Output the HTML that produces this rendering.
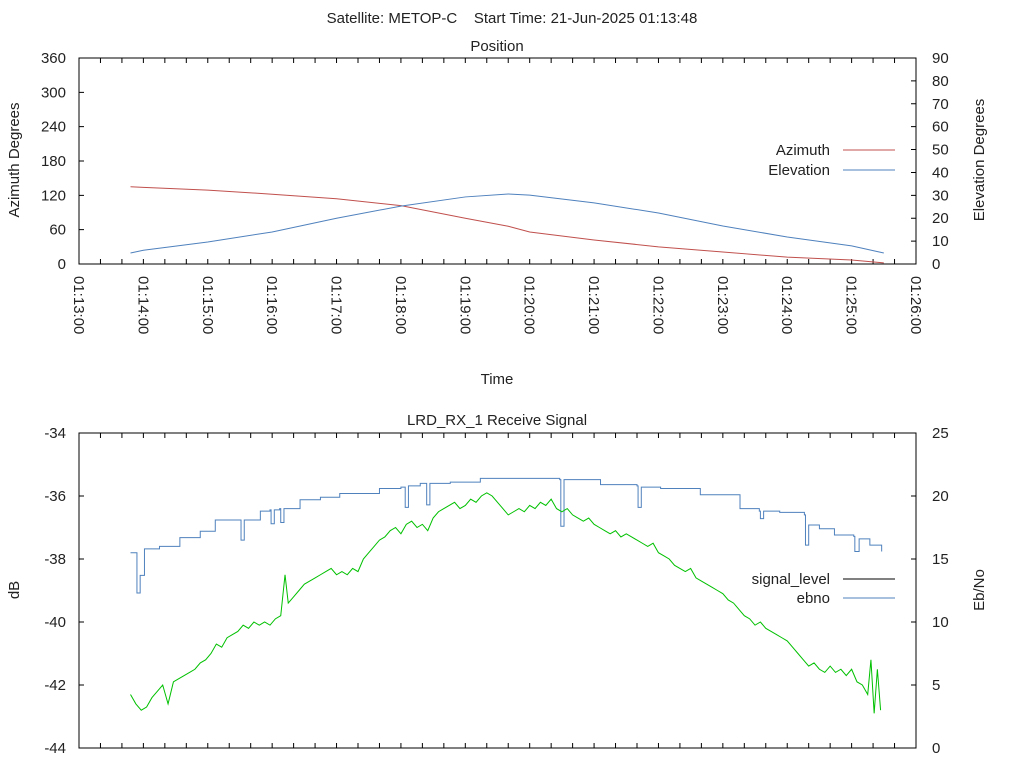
<!DOCTYPE html>
<html><head><meta charset="utf-8"><style>
body{margin:0;background:#fff;}
svg{display:block;font-family:"Liberation Sans",sans-serif;}
text{fill:#222;font-size:15px;}
</style></head><body>
<svg id="c" width="1024" height="768" viewBox="0 0 1024 768">
<text x="512" y="23" text-anchor="middle" xml:space="preserve">Satellite: METOP-C    Start Time: 21-Jun-2025 01:13:48</text>
<text x="497" y="51" text-anchor="middle">Position</text>
<text x="497" y="425" text-anchor="middle">LRD_RX_1 Receive Signal</text>
<text x="497" y="384" text-anchor="middle">Time</text>
<text transform="translate(19,160) rotate(-90)" text-anchor="middle">Azimuth Degrees</text>
<text transform="translate(984,160) rotate(-90)" text-anchor="middle">Elevation Degrees</text>
<text transform="translate(19,590) rotate(-90)" text-anchor="middle">dB</text>
<text transform="translate(984,590) rotate(-90)" text-anchor="middle">Eb/No</text>
<g id="g"></g>
</svg>
<script>
const posTimes=[48,60,120,180,240,300,360,400,420,480,540,600,660,720,750];
const azimuth=[135,134,129,122,114,102,80,66,56,42,30,21,12,7,2];
const elevation=[4.8,6,9.6,14,20,25.3,29.3,30.6,30.1,26.7,22.3,16.6,11.8,7.9,4.8];
const azTicks=[0,60,120,180,240,300,360];
const elTicks=[0,10,20,30,40,50,60,70,80,90];
const dbTicks=[-44,-42,-40,-38,-36,-34];
const ebTicks=[0,5,10,15,20,25];
const timeLabels=["01:13:00","01:14:00","01:15:00","01:16:00","01:17:00","01:18:00","01:19:00","01:20:00","01:21:00","01:22:00","01:23:00","01:24:00","01:25:00","01:26:00"];
const sigTimes=[48,53,58,63,68,73,78,83,88,93,98,103,108,113,118,123,128,133,138,143,148,153,158,163,168,173,178,183,188,192,195,200,205,210,215,220,225,230,235,240,245,250,255,260,265,270,275,280,285,290,295,300,305,310,315,320,325,330,335,340,345,350,355,360,365,370,375,380,385,390,395,400,405,410,415,420,425,430,435,440,445,450,455,460,465,470,475,480,485,490,495,500,505,510,515,520,525,530,535,540,545,550,555,560,565,570,575,580,585,590,595,600,605,610,615,620,625,630,635,640,645,650,655,660,665,670,675,680,685,690,695,700,705,710,715,720,725,730,735,738,741,744,747];
const signalLevel=[-42.3,-42.6,-42.8,-42.7,-42.4,-42.2,-42.0,-42.6,-41.9,-41.8,-41.7,-41.6,-41.5,-41.3,-41.2,-41.0,-40.7,-40.8,-40.5,-40.4,-40.3,-40.1,-40.2,-40.0,-40.1,-40.0,-40.1,-39.9,-39.8,-38.5,-39.4,-39.2,-39.0,-38.8,-38.7,-38.6,-38.5,-38.4,-38.3,-38.5,-38.4,-38.5,-38.3,-38.4,-38.0,-37.8,-37.6,-37.4,-37.3,-37.1,-37.0,-37.2,-36.9,-36.8,-37.0,-36.9,-37.1,-36.7,-36.5,-36.4,-36.3,-36.2,-36.4,-36.3,-36.1,-36.2,-36.0,-35.9,-36.0,-36.2,-36.4,-36.6,-36.5,-36.4,-36.5,-36.3,-36.4,-36.2,-36.3,-36.1,-36.4,-36.5,-36.4,-36.6,-36.7,-36.8,-36.7,-36.9,-37.0,-37.1,-37.2,-37.1,-37.3,-37.2,-37.3,-37.4,-37.5,-37.6,-37.5,-37.8,-37.9,-38.0,-38.2,-38.3,-38.4,-38.3,-38.6,-38.7,-38.8,-38.9,-39.0,-39.1,-39.3,-39.4,-39.6,-39.8,-39.9,-40.1,-40.0,-40.2,-40.3,-40.4,-40.5,-40.6,-40.8,-41.0,-41.2,-41.4,-41.3,-41.5,-41.6,-41.4,-41.6,-41.5,-41.7,-41.5,-41.9,-42.0,-42.3,-41.2,-42.9,-41.5,-42.8];
const ebTimes=[48,54,57,61,75,94,113,127,150,151,154,169,178,179,182,187,188,191,206,225,243,280,300,304,307,318,324,327,346,374,420,448,449,452,486,520,521,524,542,579,616,634,635,638,653,676,677,680,690,704,722,723,727,737,748];
const ebno=[15.5,12.3,13.7,15.8,16.0,16.7,17.2,18.1,18.1,16.5,18.1,18.8,18.9,17.8,18.9,19.0,17.9,19.0,19.7,19.9,20.2,20.6,20.7,19.1,20.8,21.0,19.3,21.0,21.1,21.4,21.4,21.3,17.6,21.3,20.9,20.8,19.1,20.7,20.6,20.1,19.0,18.8,18.2,18.8,18.7,18.5,16.1,17.7,17.4,16.9,16.8,15.6,16.6,16.1,15.6];

const NS='http://www.w3.org/2000/svg';
const g=document.getElementById('g');
const X0=79,X1=916,T1=780;
const xs=t=>X0+(X1-X0)*t/T1;
function mk(tag,at,txt){const e=document.createElementNS(NS,tag);for(const k in at)e.setAttribute(k,at[k]);if(txt!=null)e.textContent=txt;g.appendChild(e);return e;}
function panel(top,bot,lmin,lmax,lticks,rmin,rmax,rticks,pfx,labels){
  const yl=v=>bot-(bot-top)*(v-lmin)/(lmax-lmin);
  const yr=v=>bot-(bot-top)*(v-rmin)/(rmax-rmin);
  const box=mk('rect',{x:X0,y:top,width:X1-X0,height:bot-top,fill:'none',stroke:'#000','stroke-width':1});
  
  
  let d='';
  for(let s=0;s<=T1;s+=20){const x=xs(s);d+=`M${x},${bot}v-5M${x},${top}v5`;}
  lticks.forEach(v=>{d+=`M${X0},${yl(v)}h5`;
    const t=mk('text',{x:66,y:yl(v)+5,'text-anchor':'end'},String(v));
    
    });
  rticks.forEach(v=>{d+=`M${X1},${yr(v)}h-5`;
    const t=mk('text',{x:932,y:yr(v)+5},String(v));
    
    });
  const tk=mk('path',{d:d,stroke:'#000','stroke-width':1,fill:'none'});
  
  
  if(labels){labels.forEach((l,i)=>{const x=xs(i*60);
    const t=mk('text',{transform:`translate(${x-5},276) rotate(90)`},l);
    
    });}
  return {yl,yr};
}
function line(ts,vs,ys,color,name,step){
  let d='';ts.forEach((t,i)=>{const x=xs(t),y=ys(vs[i]);
    if(i===0)d+=`M${x},${y}`;else if(step)d+=`H${x}V${y}`;else d+=`L${x},${y}`;});
  const p=mk('path',{d:d,stroke:color,'stroke-width':1,fill:'none'});
  
  
}
function legend(y,label,color,name){
  const t=mk('text',{x:830,y:y+5,'text-anchor':'end'},label);
  
  
  const l=mk('line',{x1:843,x2:895,y1:y,y2:y,stroke:color,'stroke-width':1});
  
  
}
const p1=panel(58,264,0,360,azTicks,0,90,elTicks,'position',timeLabels);
line(posTimes,azimuth,p1.yl,'#c0504d','azimuth-line');
line(posTimes,elevation,p1.yr,'#4f81bd','elevation-line');
legend(150,'Azimuth','#c0504d','azimuth');
legend(170,'Elevation','#4f81bd','elevation');
const p2=panel(433,748,-44,-34,dbTicks,0,25,ebTicks,'signal',null);
line(ebTimes,ebno,p2.yr,'#4f81bd','ebno-line',true);
line(sigTimes,signalLevel,p2.yl,'#00c000','signal-level-line');
legend(579,'signal_level','#000','signal-level');
legend(598,'ebno','#4f81bd','ebno');
</script>
</body></html>
